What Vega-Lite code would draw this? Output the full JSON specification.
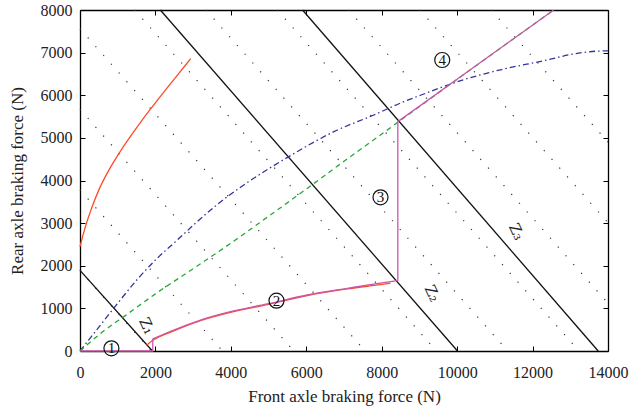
{
  "$schema": "https://vega.github.io/schema/vega-lite/v6.json",
  "width": 528,
  "height": 341,
  "autosize": "none",
  "padding": {"left": 80, "top": 10, "right": 23, "bottom": 58},
  "config": {
    "font": "Liberation Serif",
    "view": {"stroke": null},
    "text": {"font": "Liberation Serif"},
    "axis": {
      "grid": false,
      "domainColor": "#000000",
      "domainWidth": 1.3,
      "tickColor": "#000000",
      "tickWidth": 1,
      "tickSize": -5,
      "format": "d",
      "labelFlush": false,
      "labelOverlap": false,
      "labelFont": "Liberation Serif",
      "labelFontSize": 16,
      "labelColor": "#222222",
      "titleFont": "Liberation Serif",
      "titleFontSize": 17,
      "titleFontWeight": "normal",
      "titleColor": "#222222"
    }
  },
  "datasets": {
    "grid": [
      {"k": 1, "x": 0, "y": 1890}, {"k": 1, "x": 1890, "y": 0},
      {"k": 2, "x": 0, "y": 3780}, {"k": 2, "x": 3780, "y": 0},
      {"k": 3, "x": 0, "y": 5670}, {"k": 3, "x": 5670, "y": 0},
      {"k": 4, "x": 0, "y": 7560}, {"k": 4, "x": 7560, "y": 0},
      {"k": 5, "x": 1450, "y": 8000}, {"k": 5, "x": 9450, "y": 0},
      {"k": 6, "x": 3340, "y": 8000}, {"k": 6, "x": 11340, "y": 0},
      {"k": 7, "x": 5230, "y": 8000}, {"k": 7, "x": 13230, "y": 0},
      {"k": 8, "x": 7120, "y": 8000}, {"k": 8, "x": 14000, "y": 1120},
      {"k": 9, "x": 9010, "y": 8000}, {"k": 9, "x": 14000, "y": 3010},
      {"k": 10, "x": 10900, "y": 8000}, {"k": 10, "x": 14000, "y": 4900}
    ],
    "zlines": [
      {"id": "Z1", "x": 0, "y": 1890}, {"id": "Z1", "x": 1920, "y": 0},
      {"id": "Z2", "x": 2130, "y": 8000}, {"id": "Z2", "x": 10010, "y": 0},
      {"id": "Z3", "x": 5900, "y": 8000}, {"id": "Z3", "x": 13740, "y": 0}
    ],
    "blue": [
      {"o": 0, "x": 0, "y": 0}, {"o": 1, "x": 500, "y": 560}, {"o": 2, "x": 1000, "y": 1120},
      {"o": 3, "x": 1500, "y": 1660}, {"o": 4, "x": 2000, "y": 2135}, {"o": 5, "x": 2530, "y": 2564},
      {"o": 6, "x": 3061, "y": 2996}, {"o": 7, "x": 3680, "y": 3465}, {"o": 8, "x": 4342, "y": 3894},
      {"o": 9, "x": 5536, "y": 4560}, {"o": 10, "x": 6730, "y": 5145}, {"o": 11, "x": 7790, "y": 5537},
      {"o": 12, "x": 8586, "y": 5849}, {"o": 13, "x": 9030, "y": 6000}, {"o": 14, "x": 10003, "y": 6318},
      {"o": 15, "x": 11151, "y": 6598}, {"o": 16, "x": 12300, "y": 6810}, {"o": 17, "x": 13186, "y": 6984},
      {"o": 18, "x": 13804, "y": 7038}, {"o": 19, "x": 14000, "y": 7040}
    ],
    "green": [
      {"o": 0, "x": 0, "y": 0}, {"o": 1, "x": 600, "y": 450}, {"o": 2, "x": 1200, "y": 830},
      {"o": 3, "x": 2000, "y": 1340}, {"o": 4, "x": 3000, "y": 1930}, {"o": 5, "x": 4000, "y": 2530},
      {"o": 6, "x": 5000, "y": 3160}, {"o": 7, "x": 6000, "y": 3800}, {"o": 8, "x": 7000, "y": 4450},
      {"o": 9, "x": 8000, "y": 5090}, {"o": 10, "x": 8450, "y": 5380}, {"o": 11, "x": 12560, "y": 8000}
    ],
    "red": [
      {"id": "a", "o": 0, "x": 0, "y": 2448}, {"id": "a", "o": 1, "x": 143, "y": 2918},
      {"id": "a", "o": 2, "x": 300, "y": 3330}, {"id": "a", "o": 3, "x": 500, "y": 3780},
      {"id": "a", "o": 4, "x": 750, "y": 4220}, {"id": "a", "o": 5, "x": 1000, "y": 4590},
      {"id": "a", "o": 6, "x": 1300, "y": 4990}, {"id": "a", "o": 7, "x": 1600, "y": 5360},
      {"id": "a", "o": 8, "x": 1900, "y": 5710}, {"id": "a", "o": 9, "x": 2200, "y": 6050},
      {"id": "a", "o": 10, "x": 2500, "y": 6380}, {"id": "a", "o": 11, "x": 2800, "y": 6710},
      {"id": "a", "o": 12, "x": 2935, "y": 6860},
      {"id": "b", "o": 0, "x": 1760, "y": 130}, {"id": "b", "o": 1, "x": 1930, "y": 250},
      {"id": "b", "o": 2, "x": 2486, "y": 470}, {"id": "b", "o": 3, "x": 3194, "y": 710},
      {"id": "b", "o": 4, "x": 3989, "y": 905}, {"id": "b", "o": 5, "x": 4963, "y": 1090},
      {"id": "b", "o": 6, "x": 6024, "y": 1300}, {"id": "b", "o": 7, "x": 7085, "y": 1455},
      {"id": "b", "o": 8, "x": 7800, "y": 1540}, {"id": "b", "o": 9, "x": 8233, "y": 1590}
    ],
    "magenta1": [
      {"o": 0, "x": 0, "y": 0}, {"o": 1, "x": 1930, "y": 0}, {"o": 2, "x": 1930, "y": 285}
    ],
    "magenta2": [
      {"o": 2, "x": 1930, "y": 285},
      {"o": 3, "x": 2486, "y": 493}, {"o": 4, "x": 3194, "y": 727}, {"o": 5, "x": 3989, "y": 923},
      {"o": 6, "x": 4963, "y": 1103}, {"o": 7, "x": 6024, "y": 1314}, {"o": 8, "x": 7085, "y": 1470},
      {"o": 9, "x": 8233, "y": 1627}, {"o": 10, "x": 8427, "y": 1650}
    ],
    "magenta3": [
      {"o": 10, "x": 8427, "y": 1650}, {"o": 11, "x": 8427, "y": 5380},
      {"o": 12, "x": 12560, "y": 8000}
    ],
    "zlabels": [
      {"t": "Z₁", "x": 1770, "y": 590},
      {"t": "Z₂", "x": 9340, "y": 1353},
      {"t": "Z₃", "x": 11575, "y": 2800}
    ],
    "circles": [
      {"t": "1", "x": 833, "y": 63},
      {"t": "2", "x": 5210, "y": 1180},
      {"t": "3", "x": 7968, "y": 3606},
      {"t": "4", "x": 9605, "y": 6827}
    ]
  },
  "resolve": {"axis": {"x": "independent", "y": "independent"}},
  "layer": [
    {
      "data": {"name": "grid"},
      "mark": {"type": "line", "color": "#333333", "strokeWidth": 1.2, "strokeDash": [1.2, 10.5]},
      "encoding": {
        "x": {"field": "x", "type": "quantitative", "scale": {"domain": [0, 14000], "nice": false},
              "axis": {"orient": "bottom", "values": [0, 2000, 4000, 6000, 8000, 10000, 12000, 14000], "format": "d", "labelFlush": false, "labelFont": "Liberation Serif", "labelPadding": 18, "title": "Front axle braking force (N)", "titlePadding": 8}},
        "y": {"field": "y", "type": "quantitative", "scale": {"domain": [0, 8000], "nice": false},
              "axis": {"orient": "left", "values": [0, 1000, 2000, 3000, 4000, 5000, 6000, 7000, 8000], "format": "d", "labelFlush": false, "labelFont": "Liberation Serif", "labelPadding": 13, "title": "Rear axle braking force (N)", "titlePadding": 14}},
        "detail": {"field": "k"}
      }
    },
    {
      "data": {"name": "zlines"},
      "mark": {"type": "line", "color": "#111111", "strokeWidth": 1.3},
      "encoding": {
        "x": {"field": "x", "type": "quantitative",
              "axis": {"orient": "top", "values": [0, 2000, 4000, 6000, 8000, 10000, 12000, 14000], "labels": false, "title": null}},
        "y": {"field": "y", "type": "quantitative",
              "axis": {"orient": "right", "values": [0, 1000, 2000, 3000, 4000, 5000, 6000, 7000, 8000], "labels": false, "title": null}},
        "detail": {"field": "id"}
      }
    },
    {
      "data": {"name": "blue"},
      "mark": {"type": "line", "color": "#33339a", "strokeWidth": 1.3, "strokeDash": [6, 3, 1.5, 3], "interpolate": "monotone"},
      "encoding": {
        "x": {"field": "x", "type": "quantitative", "axis": null},
        "y": {"field": "y", "type": "quantitative", "axis": null},
        "order": {"field": "o"}
      }
    },
    {
      "data": {"name": "green"},
      "mark": {"type": "line", "color": "#22aa33", "strokeWidth": 1.3, "strokeDash": [5, 4], "interpolate": "monotone"},
      "encoding": {
        "x": {"field": "x", "type": "quantitative", "axis": null},
        "y": {"field": "y", "type": "quantitative", "axis": null},
        "order": {"field": "o"}
      }
    },
    {
      "data": {"name": "red"},
      "mark": {"type": "line", "color": "#ff4a26", "strokeWidth": 1.3, "interpolate": "monotone"},
      "encoding": {
        "x": {"field": "x", "type": "quantitative", "axis": null},
        "y": {"field": "y", "type": "quantitative", "axis": null},
        "detail": {"field": "id"},
        "order": {"field": "o"}
      }
    },
    {
      "data": {"name": "magenta1"},
      "mark": {"type": "line", "color": "#cc55aa", "strokeWidth": 1.3},
      "encoding": {
        "x": {"field": "x", "type": "quantitative", "axis": null},
        "y": {"field": "y", "type": "quantitative", "axis": null},
        "order": {"field": "o"}
      }
    },
    {
      "data": {"name": "magenta2"},
      "mark": {"type": "line", "color": "#cc55aa", "strokeWidth": 1.3, "interpolate": "monotone"},
      "encoding": {
        "x": {"field": "x", "type": "quantitative", "axis": null},
        "y": {"field": "y", "type": "quantitative", "axis": null},
        "order": {"field": "o"}
      }
    },
    {
      "data": {"name": "magenta3"},
      "mark": {"type": "line", "color": "#cc55aa", "strokeWidth": 1.3},
      "encoding": {
        "x": {"field": "x", "type": "quantitative", "axis": null},
        "y": {"field": "y", "type": "quantitative", "axis": null},
        "order": {"field": "o"}
      }
    },
    {
      "data": {"name": "zlabels"},
      "mark": {"type": "text", "font": "DejaVu Serif", "fontSize": 15, "angle": 65, "color": "#222222"},
      "encoding": {
        "x": {"field": "x", "type": "quantitative", "axis": null},
        "y": {"field": "y", "type": "quantitative", "axis": null},
        "text": {"field": "t"}
      }
    },
    {
      "data": {"name": "circles"},
      "mark": {"type": "point", "shape": "circle", "size": 225, "filled": false, "color": "#111111", "strokeWidth": 1.2, "opacity": 1},
      "encoding": {
        "x": {"field": "x", "type": "quantitative", "axis": null},
        "y": {"field": "y", "type": "quantitative", "axis": null}
      }
    },
    {
      "data": {"name": "circles"},
      "mark": {"type": "text", "font": "Liberation Serif", "fontSize": 15, "color": "#111111", "baseline": "middle", "align": "center"},
      "encoding": {
        "x": {"field": "x", "type": "quantitative", "axis": null},
        "y": {"field": "y", "type": "quantitative", "axis": null},
        "text": {"field": "t"}
      }
    }
  ]
}
